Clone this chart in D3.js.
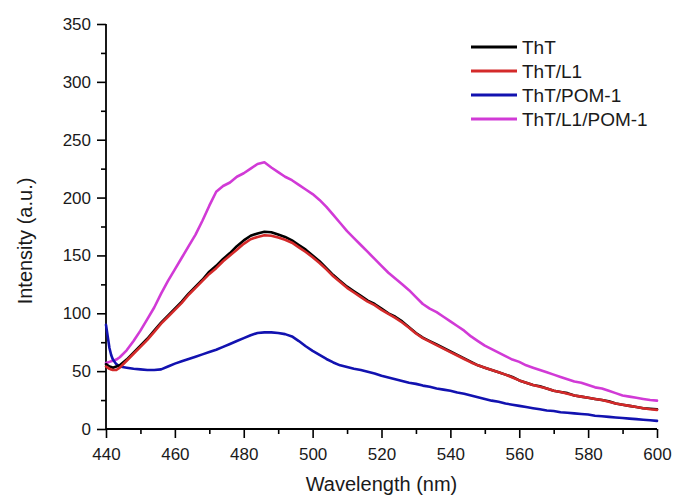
<!DOCTYPE html>
<html>
<head>
<meta charset="utf-8">
<script src="https://cdn.jsdelivr.net/npm/d3@7"></script>
<style>
  html, body { margin: 0; padding: 0; background: #fff; }
  svg { display: block; font-family: "Liberation Sans", Arial, sans-serif; }
</style>
</head>
<body>
<svg id="chart" width="674" height="497"></svg>
<script>
// ---- data ----
const wavelengths = [440,440.5,441,441.5,442,443,444,446,448,450,452,454,456,458,460,462,464,466,468,470,472,474,476,478,480,482,484,486,488,490,492,494,496,498,500,502,504,506,508,510,512,514,516,518,520,522,524,526,528,530,532,534,536,538,540,542,544,546,548,550,552,554,556,558,560,562,564,566,568,570,572,574,576,578,580,582,584,586,588,590,592,594,596,598,600];

const seriesNames = ["ThT", "ThT/L1", "ThT/POM-1", "ThT/L1/POM-1"];

const tht = [56,55,54,53.5,53,54,55,60,66,72,78,85,92,98,104,110,117,123,129,136,141,147,152,158,163,167,169,170.5,170,168,166,163,159,155,150,145,139,133,128,123,119,115,111,108,104,100,97,93,88,83,79,76,73,70,67,64,61,58,55,53,51,49,47,45,42,40,38,37,35,33,32,31,29,28,27,26,25,24,22,21,20,19,18,17.5,17];

const thtL1 = [54,53,52,51.5,51,51,53,59,65,71,77,84,91,97,103,109,116,122,128,134,139,145,150,155,160,164,166,167.5,167,165.5,163.5,161,157,153,148.5,143.5,138,132,127,122,118,114,110,107,103,99.5,96,92,87.5,82.5,78.5,75.5,72.5,69.5,66.5,63.5,60.5,57.5,55,53,51,49,47,44.5,42,40,38,36.5,35,33,32,30.5,29,28,27,26,25,23.5,22,21,20,19,18,17,16.5];

const thtPom = [90,80,70,64,60,56,54,53,52,51.5,51,51,51.5,54,56.5,58.5,60.5,62.5,64.5,66.5,68.5,71,73.5,76,78.5,81,83,83.5,83.5,83,82,80,76,71.5,67.5,64,60.5,57.5,55,53.5,52,51,49.5,48,46,44.5,43,41.5,40,39,37.5,36.5,35,34,33,31.5,30.5,29,27.5,26,24.5,23.5,22,21,20,19,18,17,16,15.5,14.5,14,13.5,13,12.5,11.5,11,10.5,10,9.5,9,8.5,8,7.5,7];

const thtL1Pom = [57,57.5,58,58.5,59,60,62,68,76,85,95,105,117,128,138,148,158,168,180,193,205,210,213,218,221,225,229,230.5,226,222,218,215,211,207,203,198,192,185,178,171,165,159,153,147,141,135,130,125,120,114,108,104,101,97,93,89,85,80,76,72,69,66,63,60,58,55,53,51,49,47,45,43,41,40,38,36,35,33,31,29,28,27,26,25,24.5];

const xTicks = [440, 460, 480, 500, 520, 540, 560, 580, 600];
const yTicks = [0, 50, 100, 150, 200, 250, 300, 350];
const xMinorTicks = [450, 470, 490, 510, 530, 550, 570, 590];
const yMinorTicks = [25, 75, 125, 175, 225, 275, 325];

const colors = {"ThT": "#000000", "ThT/L1": "#d42a2a", "ThT/POM-1": "#1212b0", "ThT/L1/POM-1": "#d13ad6"};
const valuesByName = {"ThT": tht, "ThT/L1": thtL1, "ThT/POM-1": thtPom, "ThT/L1/POM-1": thtL1Pom};

// ---- layout ----
const svg = d3.select("#chart");
const pLeft = 106, pRight = 657, pTop = 24, pBottom = 429;

const x = d3.scaleLinear().domain([440, 600]).range([pLeft, pRight]);
const y = d3.scaleLinear().domain([0, 350]).range([pBottom, pTop]);

const xAxis = svg.append("g").attr("transform", `translate(0,${pBottom})`);
xAxis.call(d3.axisBottom(x).tickValues(xTicks).tickSize(9).tickPadding(6).tickFormat(d3.format("d")));
const xMin = svg.append("g").attr("transform", `translate(0,${pBottom})`);
xMin.call(d3.axisBottom(x).tickValues(xMinorTicks).tickSize(5).tickFormat(""));
xMin.select(".domain").remove();

const yAxis = svg.append("g").attr("transform", `translate(${pLeft},0)`);
yAxis.call(d3.axisLeft(y).tickValues(yTicks).tickSize(9).tickPadding(6).tickFormat(d3.format("d")));
const yMin = svg.append("g").attr("transform", `translate(${pLeft},0)`);
yMin.call(d3.axisLeft(y).tickValues(yMinorTicks).tickSize(5).tickFormat(""));
yMin.select(".domain").remove();

svg.selectAll(".domain").attr("stroke", "#000").attr("stroke-width", 1.8);
svg.selectAll(".tick line").attr("stroke", "#000").attr("stroke-width", 1.6);
svg.selectAll(".tick text").attr("font-size", 17).attr("fill", "#1a1a1a")
   .attr("font-family", "'Liberation Sans', Arial, sans-serif");
xAxis.selectAll(".tick text").attr("dy", "0.95em");
xAxis.select(".domain").attr("d", `M${pLeft},0H${pRight}`);
yAxis.select(".domain").attr("d", `M0,${pBottom}V${pTop}`);

// ---- lines ----
const line = d3.line()
  .x((d, i) => x(wavelengths[i]))
  .y(d => y(d))
  .curve(d3.curveLinear);

const drawOrder = ["ThT/L1/POM-1", "ThT/POM-1", "ThT", "ThT/L1"];
drawOrder.forEach(name => {
  svg.append("path")
    .datum(valuesByName[name])
    .attr("fill", "none")
    .attr("stroke", colors[name])
    .attr("stroke-width", 2.6)
    .attr("stroke-linejoin", "round")
    .attr("stroke-linecap", "round")
    .attr("d", line);
});

// ---- axis titles ----
svg.append("text")
  .attr("x", (pLeft + pRight) / 2)
  .attr("y", 491)
  .attr("text-anchor", "middle")
  .attr("font-size", 20)
  .attr("fill", "#1a1a1a")
  .text("Wavelength (nm)");

svg.append("text")
  .attr("transform", `translate(32,241) rotate(-90)`)
  .attr("text-anchor", "middle")
  .attr("font-size", 20)
  .attr("fill", "#1a1a1a")
  .text("Intensity (a.u.)");

// ---- legend ----
const legend = svg.append("g");
seriesNames.forEach((name, i) => {
  const cy = 47 + i * 24;
  legend.append("line")
    .attr("x1", 471).attr("x2", 517)
    .attr("y1", cy).attr("y2", cy)
    .attr("stroke", colors[name])
    .attr("stroke-width", 3);
  legend.append("text")
    .attr("x", 522).attr("y", cy)
    .attr("dy", "0.36em")
    .attr("font-size", 19)
    .attr("fill", "#1a1a1a")
    .text(name);
});
</script>
</body>
</html>
